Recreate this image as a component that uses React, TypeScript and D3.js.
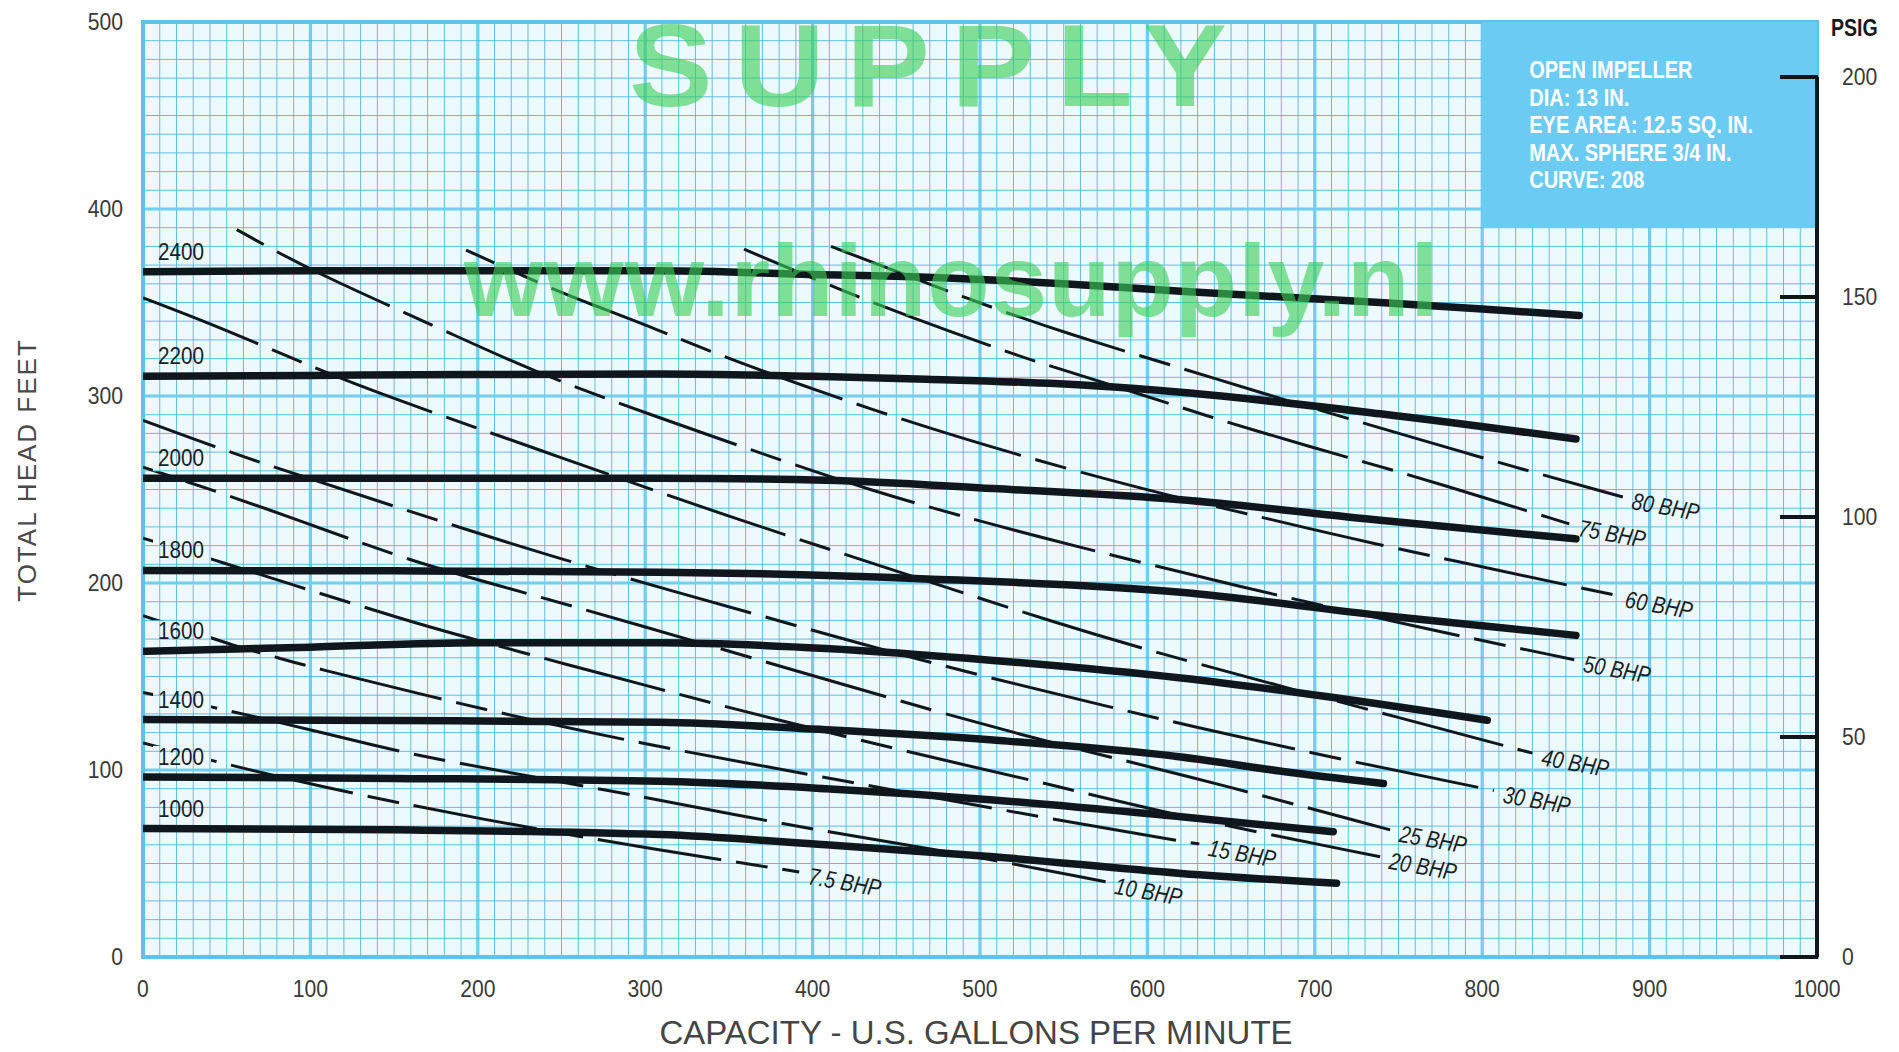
import React from 'react';
import * as d3 from 'd3';

// ---------------- Data ----------------
const xTickValues = [0, 100, 200, 300, 400, 500, 600, 700, 800, 900, 1000];
const yTickValues = [0, 100, 200, 300, 400, 500];
const psiTickValues = [0, 50, 100, 150, 200];
const FT_PER_PSI = 2.353;

// Pump speed curves (rpm) : [gpm, feet]
const speedNames = ['2400', '2200', '2000', '1800', '1600', '1400', '1200', '1000'];
const rpm2400 = [[0, 366.5], [100, 367], [200, 367], [309, 367], [400, 365], [468, 363.5], [550, 360], [620, 356], [739, 350], [800, 346.5], [858, 343]];
const rpm2200 = [[0, 310.5], [100, 311], [200, 311.5], [309, 311.8], [400, 310.5], [468, 309], [568, 305.5], [620, 302], [739, 290.5], [856, 277]];
const rpm2000 = [[0, 256], [100, 256], [200, 256], [309, 256], [408, 255], [508, 250.5], [620, 244.5], [739, 233.5], [856, 223.6]];
const rpm1800 = [[0, 206.7], [150, 206.5], [309, 205.8], [468, 202.2], [620, 195], [739, 182.7], [856, 172]];
const rpm1600 = [[0, 163.5], [100, 165.7], [200, 168], [309, 168], [408, 165], [508, 158.6], [620, 149.2], [709, 139], [803, 126.6]];
const rpm1400 = [[0, 127], [150, 126.5], [309, 125.5], [408, 121.5], [508, 116], [620, 107], [679, 99.5], [741, 92.8]];
const rpm1200 = [[0, 96.3], [150, 95.5], [309, 94], [408, 90], [508, 84], [620, 75], [711, 67]];
const rpm1000 = [[0, 68.7], [150, 68], [309, 65.5], [408, 60], [508, 53.6], [620, 44.7], [713, 39.4]];
const speedSeries = [rpm2400, rpm2200, rpm2000, rpm1800, rpm1600, rpm1400, rpm1200, rpm1000];

// Brake horsepower lines : [gpm, feet]
const bhpNames = ['80 BHP', '75 BHP', '60 BHP', '50 BHP', '40 BHP', '30 BHP', '25 BHP', '20 BHP', '15 BHP', '10 BHP', '7.5 BHP'];
const bhp80 = [[411, 380], [495, 351], [553, 333], [620, 315], [663, 303], [731, 285], [819, 262], [884, 246]];
const bhp75 = [[359, 378.5], [420, 355.5], [453, 344], [522, 321.6], [546, 315], [620, 294], [656, 283.5], [740, 262], [771, 254], [852, 231.6]];
const bhp60 = [[193, 378], [245, 357], [265, 350], [309, 335], [342, 322.4], [436, 292], [531, 266], [620, 245], [665, 236], [719, 224], [880, 193.4]];
const bhp50 = [[56, 389], [100, 367], [178, 336], [233, 313], [303, 290], [367, 270], [436, 249], [496, 234], [551, 221], [655, 198], [763, 176], [855, 159]];
const bhp40 = [[0, 352.5], [48, 336], [105, 314], [145, 300], [250, 267], [348, 236], [448, 207], [547, 178], [620, 159], [763, 125], [830, 109]];
const bhp30 = [[0, 287], [54, 269], [150, 241], [251, 212], [365, 183.6], [470, 157], [590, 131], [620, 124.8], [703, 108], [807, 89]];
const bhp25 = [[0, 262], [74, 240], [155, 213], [207, 200], [291, 179], [417, 146], [527, 117.7], [620, 98], [745, 68]];
const bhp20 = [[0, 224], [44, 212], [84, 200.5], [161, 179], [189, 172], [259, 155], [291, 147.5], [372, 128], [503, 100], [536, 93.6], [620, 75], [739, 53.6]];
const bhp15 = [[0, 182.5], [40, 171], [56, 166], [79, 160.5], [98, 155.5], [178, 138], [206, 132], [292, 115], [410, 95.5], [548, 73], [619, 62], [631, 60.5]];
const bhp10 = [[0, 141.5], [40, 134], [84, 125], [141, 112.5], [173, 106], [279, 89], [363, 74.5], [402, 68], [488, 55.5], [575, 40.2]];
const bhp7_5 = [[0, 114.5], [41, 105], [106, 91], [199, 74], [309, 57], [392, 45.5]];
const bhpSeries = [bhp80, bhp75, bhp60, bhp50, bhp40, bhp30, bhp25, bhp20, bhp15, bhp10, bhp7_5];

const infoText = ['OPEN IMPELLER', 'DIA: 13 IN.', 'EYE AREA: 12.5 SQ. IN.', 'MAX. SPHERE 3/4 IN.', 'CURVE: 208'];
const infoBoxGpm = [800, 1000];
const infoBoxFt = [390, 500];

const xTitle = 'CAPACITY - U.S. GALLONS PER MINUTE';
const yTitle = 'TOTAL HEAD FEET';
const psiTitle = 'PSIG';
const watermark1 = 'SUPPLY';
const watermark2 = 'www.rhinosupply.nl';

// ---------------- Layout ----------------
const W = 1899;
const H = 1052;
const P = { left: 143, right: 1817, top: 22, bottom: 957 };
const FONT = "'Liberation Sans', Arial, Helvetica, sans-serif";
const INK = '#0f171c';

const xScale = d3.scaleLinear().domain([0, 1000]).range([P.left, P.right]);
const yScale = d3.scaleLinear().domain([0, 500]).range([P.bottom, P.top]);
const psiScale = d3.scaleLinear().domain([0, 200]).range([yScale(0), yScale(200 * FT_PER_PSI)]);

const speedLine = d3.line<number[]>().x(d => xScale(d[0])).y(d => yScale(d[1])).curve(d3.curveMonotoneX);
const bhpLine = d3.line<number[]>().x(d => xScale(d[0])).y(d => yScale(d[1])).curve(d3.curveBasis);

function CText(props: any) {
  const { x, y, sx = 1, sy = 1, rotate = 0, anchor = 'start', children, ...rest } = props;
  return (
    <text
      transform={`translate(${x},${y}) rotate(${rotate}) scale(${sx},${sy})`}
      textAnchor={anchor}
      fontFamily={FONT}
      {...rest}
    >
      {children}
    </text>
  );
}

export default function App() {
  const minorX = d3.range(0, 1001, 10);
  const minorY = d3.range(0, 501, 10);
  const labelPos = speedSeries.map(s => ({ x: xScale(0) + 15, y: yScale(s[0][1]) - 12 }));

  return (
    <svg width={W} height={H} style={{ position: 'absolute', left: 0, top: 0, background: '#ffffff' }}>
      <defs>
        <mask id="lblMask" maskUnits="userSpaceOnUse" x={0} y={0} width={W} height={H}>
          <rect x={0} y={0} width={W} height={H} fill="white" />
          {labelPos.map((p, i) => (
            <rect key={i} x={p.x - 5} y={p.y - 19} width={58} height={24} fill="black" />
          ))}
        </mask>
        <clipPath id="plotClip">
          <rect x={P.left} y={P.top} width={P.right - P.left} height={P.bottom - P.top} />
        </clipPath>
      </defs>

      {/* plot background */}
      <rect x={P.left} y={P.top} width={P.right - P.left} height={P.bottom - P.top} fill="#ecf9fd" />

      {/* grid */}
      <g>
        {minorX.map(v => (
          <line key={'mx' + v} x1={xScale(v)} x2={xScale(v)} y1={P.top} y2={P.bottom}
            stroke={v % 100 === 0 ? '#72cdef' : '#4fb2d8'} strokeWidth={v % 100 === 0 ? 3.2 : 1} opacity={v % 100 === 0 ? 1 : 0.85} />
        ))}
        {minorY.map(v => (
          <line key={'my' + v} x1={P.left} x2={P.right} y1={yScale(v)} y2={yScale(v)}
            stroke={v % 100 === 0 ? '#72cdef' : '#4fb2d8'} strokeWidth={v % 100 === 0 ? 3.2 : 1} opacity={v % 100 === 0 ? 1 : 0.85} />
        ))}
        <rect x={P.left} y={P.top} width={P.right - P.left} height={P.bottom - P.top} fill="none" stroke="#5ec3ea" strokeWidth={4} />
      </g>

      {/* info box */}
      <rect x={xScale(infoBoxGpm[0])} y={yScale(infoBoxFt[1])} width={xScale(infoBoxGpm[1]) - xScale(infoBoxGpm[0])}
        height={yScale(infoBoxFt[0]) - yScale(infoBoxFt[1])} fill="#6ccbf2" />
      {infoText.map((t, i) => (
        <CText key={t} x={xScale(infoBoxGpm[0]) + 47} y={yScale(infoBoxFt[1]) + 56 + i * 27.5} sx={0.87}
          fontSize={23} fontWeight="bold" fill="#ffffff">{t}</CText>
      ))}

      {/* BHP lines */}
      <g mask="url(#lblMask)" clipPath="url(#plotClip)">
        {bhpSeries.map((s, i) => (
          <path key={bhpNames[i]} d={bhpLine(s as any) || ''} fill="none" stroke={INK} strokeWidth={3}
            strokeDasharray="125 15 32 15" strokeDashoffset={(i * 47) % 187} />
        ))}
      </g>

      {/* speed curves */}
      <g clipPath="url(#plotClip)">
        {speedSeries.map((s, i) => (
          <path key={speedNames[i]} d={speedLine(s as any) || ''} fill="none" stroke={INK} strokeWidth={7.5} strokeLinecap="round" />
        ))}
      </g>

      {/* speed labels */}
      {speedNames.map((n, i) => (
        <CText key={n} x={labelPos[i].x} y={labelPos[i].y} sx={0.9} fontSize={23} fill="#1a1f22">{n}</CText>
      ))}

      {/* BHP labels */}
      {bhpSeries.map((s, i) => {
        const last = s[s.length - 1];
        return (
          <CText key={bhpNames[i]} x={xScale(last[0]) + 8} y={yScale(last[1]) + 12} rotate={10} sx={0.82}
            fontSize={24} fontStyle="italic" fill="#1a1f22">{bhpNames[i]}</CText>
        );
      })}

      {/* left axis labels */}
      {yTickValues.map(v => (
        <CText key={'yl' + v} x={P.left - 20} y={yScale(v) + 8} sx={0.92} anchor="end" fontSize={23} fill="#3a3a3a">{v}</CText>
      ))}
      {/* bottom axis labels */}
      {xTickValues.map(v => (
        <CText key={'xl' + v} x={xScale(v)} y={997} sx={0.92} anchor="middle" fontSize={23} fill="#3a3a3a">{v}</CText>
      ))}

      {/* titles */}
      <CText x={976} y={1044} anchor="middle" fontSize={33} fill="#454545">{xTitle}</CText>
      <CText x={36} y={470} rotate={-90} anchor="middle" fontSize={26} letterSpacing={2} fill="#4a4a4a">{yTitle}</CText>

      {/* PSIG axis */}
      <g>
        <line x1={P.right} x2={P.right} y1={psiScale(200)} y2={psiScale(0)} stroke={INK} strokeWidth={4} />
        {psiTickValues.map(v => (
          <line key={'pt' + v} x1={P.right - 37} x2={P.right + 1} y1={psiScale(v)} y2={psiScale(v)} stroke={INK} strokeWidth={4} />
        ))}
        {psiTickValues.map(v => (
          <CText key={'pl' + v} x={P.right + 25} y={psiScale(v) + 8} sx={0.92} fontSize={23} fill="#3a3a3a">{v}</CText>
        ))}
        <CText x={1831} y={36} sx={0.85} fontSize={23} fontWeight="bold" fill="#1a1a1a">{psiTitle}</CText>
      </g>

      {/* watermark */}
      <g opacity={0.62} fill="#3ccf5a" fontWeight="bold">
        <CText x={629} y={106} sx={1.08} fontSize={116} letterSpacing={20}>{watermark1}</CText>
        <CText x={464} y={316} fontSize={102} letterSpacing={1}>{watermark2}</CText>
      </g>
    </svg>
  );
}
